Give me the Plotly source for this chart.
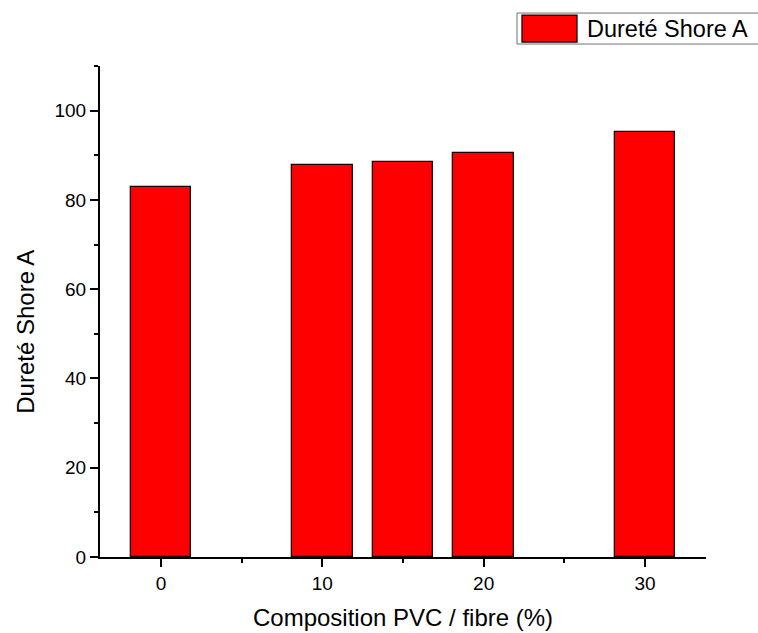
import plotly.graph_objects as go

# Shore A hardness for each PVC / fibre composition
composition = [0, 10, 15, 20, 30]
durete = [82.9, 87.9, 88.4, 90.6, 95.2]
series_name = "Dureté Shore A"
x_title = "Composition PVC / fibre (%)"
y_title = "Dureté Shore A"
x_ticks = [0, 10, 20, 30]

W, H = 758, 633
L, R, T, B = 100, 52, 66, 75.5
pw, ph = W - L - R, H - T - B

FONT = '"Liberation Sans", Arial, sans-serif'
RED = "#FF0000"


def px_x(p):
    return (p - L) / pw


def px_y(p):
    return (H - B - p) / ph


fig = go.Figure()
fig.add_trace(go.Bar(
    x=composition,
    y=durete,
    width=3.75,
    name=series_name,
    marker=dict(color=RED, line=dict(color="#1a0000", width=1.3)),
    showlegend=False,
))

axis_common = dict(
    showline=True,
    linecolor="black",
    linewidth=2,
    ticks="outside",
    ticklen=8,
    tickwidth=2,
    tickcolor="black",
    showgrid=False,
    zeroline=False,
    tickfont=dict(family=FONT, size=19, color="black"),
    mirror=False,
)

fig.update_xaxes(
    range=[-3.78, 33.78],
    tickmode="array",
    tickvals=x_ticks,
    ticktext=[str(v) for v in x_ticks],
    minor=dict(ticks="outside", ticklen=4, tickwidth=2, tickcolor="black",
               tickmode="array", tickvals=[5, 15, 25]),
    **axis_common,
)
fig.update_yaxes(
    range=[0, 110],
    tick0=0,
    dtick=20,
    minor=dict(ticks="outside", ticklen=4, tickwidth=2, tickcolor="black",
               dtick=10),
    **axis_common,
)

# Axis titles
fig.add_annotation(
    text=x_title, xref="paper", yref="paper",
    x=px_x(403), y=px_y(618), showarrow=False,
    xanchor="center", yanchor="middle",
    font=dict(family=FONT, size=24, color="black"),
)
fig.add_annotation(
    text=y_title, xref="paper", yref="paper",
    x=px_x(26), y=px_y(332), showarrow=False, textangle=-90,
    xanchor="center", yanchor="middle",
    font=dict(family=FONT, size=24, color="black"),
)

# Legend box in the top-right corner
fig.add_shape(
    type="rect", xref="paper", yref="paper",
    x0=px_x(517), x1=px_x(775), y0=px_y(44), y1=px_y(13),
    line=dict(color="#707070", width=1), fillcolor="white", layer="above",
)
fig.add_shape(
    type="rect", xref="paper", yref="paper",
    x0=px_x(522), x1=px_x(577), y0=px_y(42), y1=px_y(15),
    line=dict(color="#1a0000", width=1.3), fillcolor=RED, layer="above",
)
fig.add_annotation(
    text=series_name, xref="paper", yref="paper",
    x=px_x(585), y=px_y(28.5), showarrow=False,
    xanchor="left", yanchor="middle",
    font=dict(family=FONT, size=23.5, color="black"),
)

fig.update_layout(
    width=W, height=H,
    margin=dict(l=L, r=R, t=T, b=B, pad=0),
    paper_bgcolor="white",
    plot_bgcolor="white",
    bargap=0,
    showlegend=False,
    font=dict(family=FONT),
)

fig.write_html("out.html")
